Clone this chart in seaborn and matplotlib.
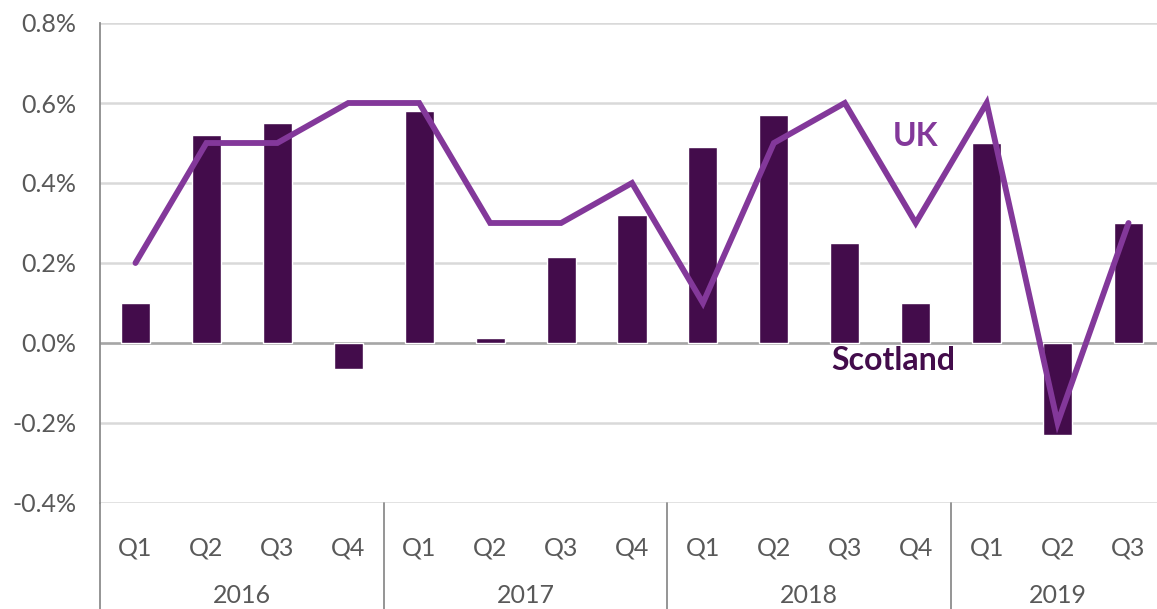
import numpy as np
import pandas as pd
import matplotlib as mpl
mpl.use('Agg')
import matplotlib.pyplot as plt
import matplotlib.transforms as mtransforms
import seaborn as sns

# quarterly GDP growth, %
quarters = ['Q1', 'Q2', 'Q3', 'Q4'] * 3 + ['Q1', 'Q2', 'Q3']
years = ['2016', '2017', '2018', '2019']
scotland = [0.10, 0.52, 0.55, -0.065, 0.58, 0.012, 0.215, 0.32,
            0.49, 0.57, 0.25, 0.10, 0.50, -0.23, 0.30]
uk = [0.2, 0.5, 0.5, 0.6, 0.6, 0.3, 0.3, 0.4,
      0.1, 0.5, 0.6, 0.3, 0.6, -0.2, 0.3]

bar_col = '#430C4B'
line_col = '#83389A'
txt_col = '#595959'

df = pd.DataFrame({'pos': np.arange(len(scotland)), 'Scotland': scotland, 'UK': uk})

sns.set_style('white')
plt.rcParams['font.family'] = ['Lato', 'DejaVu Sans']

fig = plt.figure(figsize=(11.57, 6.09), dpi=100)
ax = fig.add_axes([100 / 1157, 1 - 503 / 609, 1064 / 1157, 480 / 609])

sns.barplot(data=df, x='pos', y='Scotland', color=bar_col, width=0.41,
            saturation=1, ax=ax, zorder=3)
sns.lineplot(data=df, x='pos', y='UK', color=line_col, linewidth=4.2,
             ax=ax, zorder=4, solid_capstyle='round', solid_joinstyle='miter')

ax.set_xlim(-0.5, 14.5)
ax.set_ylim(-0.4, 0.8)
ax.set_yticks(np.arange(-0.4, 0.81, 0.2))
ax.set_yticklabels([f'{v:.1f}%' for v in np.arange(-0.4, 0.81, 0.2)])
ax.set_xticks(df['pos'])
ax.set_xticklabels(quarters)
ax.set_xlabel('')
ax.set_ylabel('')
ax.tick_params(axis='both', length=0, labelsize=18, labelcolor=txt_col)
ax.tick_params(axis='y', pad=17)
ax.tick_params(axis='x', pad=24)

ax.yaxis.grid(True, color='#D9D9D9', linewidth=1.8, zorder=0)
ax.set_axisbelow(True)
ax.axhline(0, color='#A6A6A6', linewidth=1.8, zorder=2)

for s in ['top', 'right', 'bottom']:
    ax.spines[s].set_visible(False)
ax.spines['left'].set_color('#8C8C8C')
ax.spines['left'].set_linewidth(1.3)

# year row and group separators below the axis
trans = mtransforms.blended_transform_factory(ax.transData, ax.transAxes)
for i, yr in enumerate(years):
    mid = (4 * i + min(4 * i + 3, len(scotland) - 1)) / 2
    ax.text(mid, -0.192, yr, transform=trans, ha='center', va='center',
            fontsize=18, color=txt_col)
for xs in [-0.5, 3.5, 7.5, 11.5]:
    ax.plot([xs, xs], [0, -0.25], transform=trans, color='#8C8C8C',
            linewidth=1.3, clip_on=False)

ax.text(11.0, 0.515, 'UK', color=line_col, fontsize=23, fontweight='bold',
        ha='center', va='center')
ax.text(10.68, -0.045, 'Scotland', color=bar_col, fontsize=23, fontweight='bold',
        ha='center', va='center')

fig.savefig('out.png', dpi=100)
